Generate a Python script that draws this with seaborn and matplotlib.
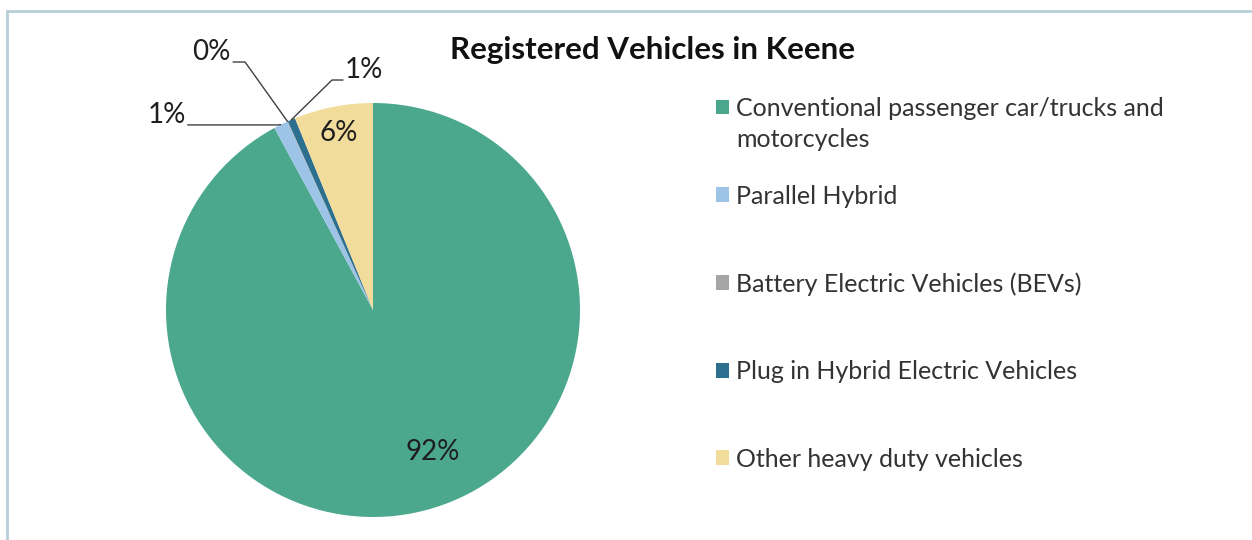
import matplotlib
matplotlib.use("Agg")
import numpy as np
import seaborn as sns
import matplotlib.pyplot as plt
from matplotlib.lines import Line2D

# ---------------------------------------
# 1. Data
# ---------------------------------------
categories = [
    "Conventional passenger car/trucks and",
    "Parallel Hybrid",
    "Battery Electric Vehicles (BEVs)",
    "Plug in Hybrid Electric Vehicles",
    "Other heavy duty vehicles",
]
second_line = "motorcycles"
shares = [92.1, 1.1, 0.05, 0.6, 6.15]
pct_labels = ["92%", "1%", "0%", "1%", "6%"]
colors = ["#4ba88c", "#9dc3e6", "#a5a5a5", "#2c6f8e", "#f2dc9b"]

# ---------------------------------------
# 2. Theme
# ---------------------------------------
sns.set_theme(style="white")
plt.rcParams["font.family"] = ["Lato", "DejaVu Sans"]
text_color = "#1e1e1e"
palette = sns.color_palette(colors)

fig = plt.figure(figsize=(12.52, 5.40), dpi=100)
W, H = 1252, 540

# pie axes: centre (373, 310), radius 207 px
cx, cy, r = 373, 310, 207
ax = fig.add_axes([(cx - r) / W, (H - cy - r) / H, 2 * r / W, 2 * r / H])

wedges, _ = ax.pie(
    shares,
    colors=palette,
    startangle=90,
    counterclock=False,
    radius=1.0,
    wedgeprops=dict(linewidth=0),
)
ax.set_xlim(-1, 1)
ax.set_ylim(-1, 1)
ax.set_aspect("equal")
ax.axis("off")

# ---------------------------------------
# 3. Slice labels
# ---------------------------------------
fs_pct = 20
mids = [np.deg2rad((w.theta1 + w.theta2) / 2) for w in wedges]

# big slices: label inside
ang = mids[0] + np.deg2rad(8.5)
ax.text(0.743 * np.cos(ang), 0.743 * np.sin(ang), pct_labels[0],
        ha="center", va="center", fontsize=fs_pct, color=text_color)
ax.text(0.87 * np.cos(mids[4]), 0.87 * np.sin(mids[4]), pct_labels[4],
        ha="center", va="center", fontsize=fs_pct, color=text_color)

# small slices: leader lines (knee, stub end, text side)
leaders = {
    1: ((-0.46, 0.894), (-0.895, 0.894), "right"),
    2: ((-0.618, 1.198), (-0.676, 1.198), "right"),
    3: ((-0.198, 1.111), (-0.145, 1.111), "left"),
}
for i, (knee, stub, side) in leaders.items():
    ex, ey = np.cos(mids[i]), np.sin(mids[i])
    ax.plot([ex, knee[0], stub[0]], [ey, knee[1], stub[1]],
            color="#404040", lw=1.0, clip_on=False)
    tx = stub[0] - 0.01 if side == "right" else stub[0] + 0.01
    ax.text(tx, stub[1] - 0.015, pct_labels[i], ha=side, va="bottom",
            fontsize=fs_pct, color=text_color, clip_on=False)

# ---------------------------------------
# 4. Title and legend
# ---------------------------------------
fig.text(652 / W, 1 - 50 / H, "Registered Vehicles in Keene",
         ha="center", va="center", fontsize=22.5, fontweight="bold",
         color="#111111")

fs = 18
leg = fig.legend(
    wedges, categories,
    loc="upper left",
    bbox_to_anchor=(716 / W, 1 - 97 / H),
    frameon=False,
    fontsize=fs,
    handlelength=0.52,
    handleheight=0.52,
    handletextpad=0.3,
    labelspacing=2.58,
    borderpad=0,
    borderaxespad=0,
)
for t in leg.get_texts():
    t.set_color("#333333")

fig.canvas.draw()
bb = leg.get_texts()[0].get_window_extent()
fig.text(bb.x0 / W, (bb.y0 - 31) / H, second_line, ha="left", va="bottom",
         fontsize=fs, color="#333333")

# ---------------------------------------
# 5. Frame lines
# ---------------------------------------
border = "#b5cfd9"
fig.add_artist(Line2D([7 / W, 1.0], [1 - 11 / H, 1 - 11 / H],
                      color=border, lw=2, transform=fig.transFigure))
fig.add_artist(Line2D([7 / W, 7 / W], [0, 1 - 11 / H],
                      color=border, lw=2, transform=fig.transFigure))

fig.savefig("out.png", dpi=100)
